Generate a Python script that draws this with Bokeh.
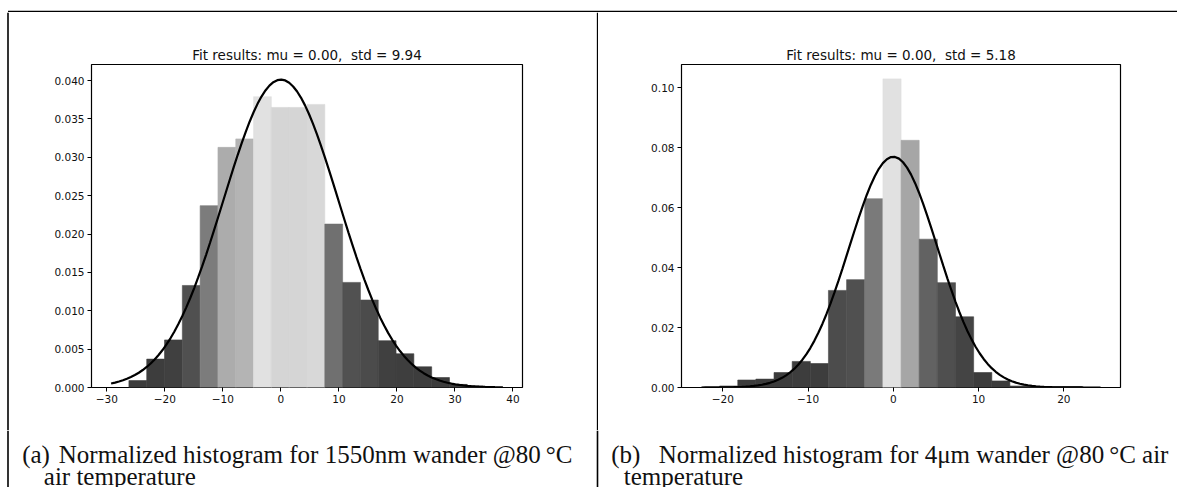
import numpy as np
from bokeh.plotting import figure
from bokeh.layouts import row, column
from bokeh.models import FixedTicker, Range1d
from bokeh.core.properties import value
from bokeh.embed import file_html
from bokeh.resources import INLINE

# ---------------- data ----------------
# (a) 1550 nm wander, 20 bins
a_edges = [-26.20, -23.13, -20.06, -16.99, -13.92, -10.85, -7.78, -4.71, -1.64, 1.43,
           4.50, 7.57, 10.64, 13.71, 16.78, 19.85, 22.92, 25.99, 29.06, 32.13, 35.20]
a_density = [0.0009, 0.0037, 0.0062, 0.0133, 0.0237, 0.0313, 0.0324, 0.0379, 0.0365, 0.0365,
             0.0369, 0.0213, 0.0137, 0.0114, 0.0061, 0.0044, 0.0027, 0.0013, 0.0004, 0.0002]
a_mu, a_std = 0.00, 9.94
a_curve_range = [-29.27, 38.27]
a_xticks = [-30, -20, -10, 0, 10, 20, 30, 40]
a_xlabels = ["\u221230", "\u221220", "\u221210", "0", "10", "20", "30", "40"]
a_yticks = [0.000, 0.005, 0.010, 0.015, 0.020, 0.025, 0.030, 0.035, 0.040]
a_ylabels = ["0.000", "0.005", "0.010", "0.015", "0.020", "0.025", "0.030", "0.035", "0.040"]

# (b) 4 um wander, 20 bins
b_edges = [-20.37, -18.24, -16.12, -13.99, -11.86, -9.73, -7.61, -5.48, -3.35, -1.22,
           0.91, 3.03, 5.16, 7.29, 9.42, 11.55, 13.67, 15.80, 17.93, 20.06, 22.18]
b_density = [0.0005, 0.0025, 0.0028, 0.0050, 0.0087, 0.0080, 0.0324, 0.0360, 0.0630, 0.1030,
             0.0825, 0.0495, 0.0350, 0.0236, 0.0050, 0.0022, 0.0005, 0.0003, 0.0003, 0.0003]
b_mu, b_std = 0.00, 5.18
b_curve_range = [-22.50, 24.30]
b_xticks = [-20, -10, 0, 10, 20]
b_xlabels = ["\u221220", "\u221210", "0", "10", "20"]
b_yticks = [0.00, 0.02, 0.04, 0.06, 0.08, 0.10]
b_ylabels = ["0.00", "0.02", "0.04", "0.06", "0.08", "0.10"]

a_title = "Fit results: mu = 0.00,\u00a0 std = 9.94"
b_title = "Fit results: mu = 0.00,\u00a0 std = 5.18"
captions = ["(a)", "Normalized histogram for 1550nm wander @80\u2009\u00b0C", "air temperature",
            "(b)", "Normalized histogram for 4\u03bcm wander @80\u2009\u00b0C air", "temperature"]

TICK_FONT = "DejaVu Sans"
CAP_FONT = "Liberation Serif"
TOTAL_W, TOTAL_H = 1177, 487
TOP_H = 12            # strip holding the table's top rule
CHART_H = 418
CAP_H = TOTAL_H - TOP_H - CHART_H
LEFT_W, MID_W = 9, 2
A_W = 587
B_W = TOTAL_W - LEFT_W - A_W - MID_W
RULE_X = [7.5, 597.0]   # vertical rules of the table (canvas px)


def grays(vals):
    lo, hi = min(vals), max(vals)
    out = []
    for v in vals:
        f = (v - lo) / (hi - lo)
        g = int(round(60 + 165 * f ** 2))
        out.append("#%02x%02x%02x" % (g, g, g))
    return out


def blank(w, h):
    p = figure(width=w, height=h, output_backend="svg", toolbar_location=None,
               x_range=Range1d(0, w), y_range=Range1d(h, 0),
               x_axis_location=None, y_axis_location=None, min_border=0)
    p.outline_line_color = None
    p.xgrid.visible = False
    p.ygrid.visible = False
    p.background_fill_color = "white"
    p.border_fill_color = "white"
    return p


def chart(width, bl, br, xr, yr, edges, dens, mu, std, crange, xt, xl, yt, yl, title):
    p = figure(width=width, height=CHART_H, output_backend="svg", toolbar_location=None,
               x_range=Range1d(*xr), y_range=Range1d(*yr),
               min_border_left=bl, min_border_right=br, min_border_top=52, min_border_bottom=43,
               title=title)
    p.title.align = "center"
    p.title.text_font = TICK_FONT
    p.title.text_font_style = "normal"
    p.title.text_font_size = "13.5px"
    p.title.text_color = "#111111"
    p.title.standoff = 3
    p.background_fill_color = "white"
    p.border_fill_color = "white"
    p.outline_line_color = "black"
    p.outline_line_width = 1.2
    p.outline_line_alpha = 1.0
    p.xgrid.visible = False
    p.ygrid.visible = False

    cols = grays(dens)
    p.quad(left=edges[:-1], right=edges[1:], bottom=0, top=dens,
           fill_color=cols, line_color=cols, line_width=0.6)

    xs = np.linspace(crange[0], crange[1], 100)
    ys = np.exp(-0.5 * ((xs - mu) / std) ** 2) / (std * np.sqrt(2 * np.pi))
    p.line(xs, ys, line_color="black", line_width=2.2)

    for ax, ticks, labels in ((p.xaxis[0], xt, xl), (p.yaxis[0], yt, yl)):
        ax.ticker = FixedTicker(ticks=ticks)
        ax.major_label_overrides = {t: s for t, s in zip(ticks, labels)}
        ax.minor_tick_line_color = None
        ax.major_tick_in = 0
        ax.major_tick_out = 4
        ax.major_tick_line_color = "black"
        ax.axis_line_color = None
        ax.major_label_text_font = TICK_FONT
        ax.major_label_text_font_size = "10.5px"
        ax.major_label_text_color = "#111111"
        ax.major_label_standoff = 3
    return p


# top rule of the table
top = blank(TOTAL_W, TOP_H)
top.segment(x0=[RULE_X[0]], y0=[11.0], x1=[TOTAL_W], y1=[11.0], line_color="black", line_width=1.6)

# vertical rules beside the charts
left_rule = blank(LEFT_W, CHART_H)
left_rule.segment(x0=[RULE_X[0]], y0=[0], x1=[RULE_X[0]], y1=[CHART_H], line_color="black", line_width=1.6)
mid_rule = blank(MID_W, CHART_H)
mid_rule.segment(x0=[1.0], y0=[0], x1=[1.0], y1=[CHART_H], line_color="black", line_width=1.6)

pa = chart(A_W, 82, 74, (-32.65, 41.65), (0, 0.0421), a_edges, a_density, a_mu, a_std,
           a_curve_range, a_xticks, a_xlabels, a_yticks, a_ylabels, a_title)
pb = chart(B_W, 83, 57, (-24.84, 26.64), (0, 0.1078), b_edges, b_density, b_mu, b_std,
           b_curve_range, b_xticks, b_xlabels, b_yticks, b_ylabels, b_title)

# caption strip across the full width (with the vertical rules continuing)
caps = blank(TOTAL_W, CAP_H)
caps.segment(x0=RULE_X, y0=[0, 0], x1=RULE_X, y1=[CAP_H, CAP_H], line_color="black", line_width=1.6)
caps.text(x=[21.7, 58.3, 43.3, 610.7, 658.3, 623.3], y=[24, 24, 45.5, 24, 24, 45.5], text=captions,
          text_font=value(CAP_FONT), text_font_size="25px", text_color="#111111",
          text_baseline="alphabetic", text_align="left")

# charts wrapped in their own columns so the rule strips are not frame-aligned with them
layout = column(top,
                row(left_rule, column(pa, spacing=0), mid_rule, column(pb, spacing=0), spacing=0),
                caps, spacing=0)
open("out.html", "w").write(file_html(layout, INLINE))
